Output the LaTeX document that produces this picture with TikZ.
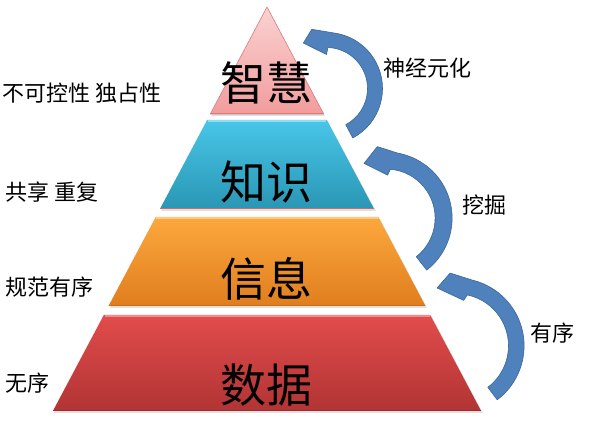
\documentclass[tikz,border=0pt]{standalone}
\usepackage{fontspec}
\setmainfont{Noto Sans CJK SC}
\usetikzlibrary{calc}
\definecolor{arrowblue}{HTML}{4F81BD}
\definecolor{arrowedge}{HTML}{3C6796}
\definecolor{pinkT}{HTML}{FAD2D2}
\definecolor{pinkB}{HTML}{F29C9C}
\definecolor{pinkE}{HTML}{D97C7C}
\definecolor{cyanT}{HTML}{48C6E8}
\definecolor{cyanB}{HTML}{2A96B4}
\definecolor{cyanH}{HTML}{8EDDF2}
\definecolor{cyanE}{HTML}{CF6A6A}
\definecolor{orT}{HTML}{FCA83E}
\definecolor{orB}{HTML}{E07E1E}
\definecolor{orH}{HTML}{FDCB85}
\definecolor{orE}{HTML}{C86E18}
\definecolor{redT}{HTML}{E24C4C}
\definecolor{redB}{HTML}{B23434}
\definecolor{redH}{HTML}{F08C8C}
\definecolor{redE}{HTML}{9C2A2A}
\begin{document}
\begin{tikzpicture}[x=1pt,y=1pt,
  biglabel/.style={font=\fontsize{46}{46}\selectfont, inner sep=0pt, text=black},
  sidelabel/.style={font=\fontsize{22}{22}\selectfont, inner sep=0pt, anchor=west, text=black},
  curvearrow/.style={fill=arrowblue, draw=arrowedge, line width=0.6pt, line join=round},
  layershadow/.style={fill=black, opacity=0.12}]
\useasboundingbox (0,0) rectangle (594,433);
\fill[white] (0,0) rectangle (594,433);

% shadows
\fill[layershadow] (268,424) -- (325,317) -- (211,317) -- cycle;
\fill[layershadow] (208,311) -- (328,311) -- (376,222) -- (161,222) -- cycle;
\fill[layershadow] (157,214) -- (380,214) -- (427,125) -- (110,125) -- cycle;
\fill[layershadow] (105,116) -- (432,116) -- (483,20) -- (54,20) -- cycle;

% layer 1
\shade[top color=pinkT,bottom color=pinkB] (267,426) -- (323.7,319) -- (210.3,319) -- cycle;
\draw[pinkE, line width=0.6pt, line join=round] (267,426) -- (323.7,319) -- (210.3,319) -- cycle;
\draw[pinkE, line width=1.4pt] (210.6,319.6) -- (323.4,319.6);

% layer 2
\shade[top color=cyanT,bottom color=cyanB] (207.1,313) -- (326.9,313) -- (374.1,224) -- (159.9,224) -- cycle;
\draw[cyanH, line width=1.4pt] (207.8,312) -- (326.2,312);
\draw[cyanE, line width=1.4pt] (160.3,224.6) -- (373.7,224.6);

% layer 3
\shade[top color=orT,bottom color=orB] (155.7,216) -- (378.3,216) -- (425.5,127) -- (108.5,127) -- cycle;
\draw[orH, line width=1.4pt] (156.4,215) -- (377.6,215);
\draw[orE, line width=1.4pt] (108.9,127.6) -- (425.1,127.6);

% layer 4
\shade[top color=redT,bottom color=redB] (103.8,118) -- (430.2,118) -- (481.1,22) -- (52.9,22) -- cycle;
\draw[redH, line width=1.4pt] (104.5,117) -- (429.5,117);
\draw[redE, line width=1.2pt] (53.3,22.6) -- (480.7,22.6);

% curved arrows
\begin{scope}[shift={(326.5,344.5)}]
\path[curvearrow] (-62:56) arc[start angle=-62,end angle=81,radius=56] -- (104:61) -- (117:51) -- (90:34) -- (88:41) arc[start angle=88,end angle=-62,radius=41] -- cycle;
\end{scope}
\begin{scope}[shift={(386.1,214.9)}]
\path[curvearrow] (-52:66) arc[start angle=-52,end angle=79.6,radius=66] -- (97:72) -- (112:59) -- (88:43) -- (85:49) arc[start angle=85,end angle=-52,radius=49] -- cycle;
\end{scope}
\begin{scope}[shift={(456.5,87.2)}]
\path[curvearrow] (-53:67.6) arc[start angle=-53,end angle=76.7,radius=67.6] -- (95:73) -- (108.6:61) -- (81:46) -- (78:52) arc[start angle=78,end angle=-53,radius=52] -- cycle;
\end{scope}

% big labels
\node[biglabel] (wisdom) at (266,350) {智慧};
\node[biglabel] (knowledge) at (266,251) {知识};
\node[biglabel] (info) at (266,154) {信息};
\node[biglabel] (data) at (266,48) {数据};

% side labels
\node[sidelabel] (l1) at (2,340) {不可控性 独占性};
\node[sidelabel] (l2) at (5,241) {共享 重复};
\node[sidelabel] (l3) at (5,146) {规范有序};
\node[sidelabel] (l4) at (5,50) {无序};
\node[sidelabel] (r1) at (383,365) {神经元化};
\node[sidelabel] (r2) at (462,228) {挖掘};
\node[sidelabel] (r3) at (530,100) {有序};
\end{tikzpicture}
\end{document}
